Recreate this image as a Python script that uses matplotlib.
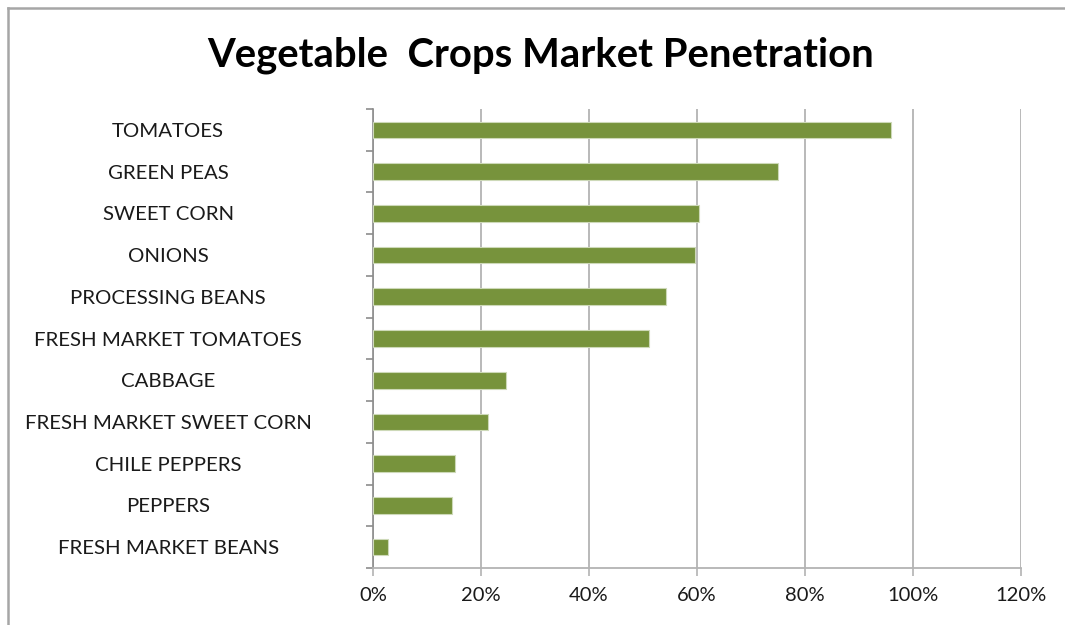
import matplotlib.pyplot as plt
from matplotlib.lines import Line2D
from matplotlib.ticker import FuncFormatter

plt.rcParams['font.family'] = ['Lato', 'DejaVu Sans']

# data, top to bottom
crops = ['TOMATOES', 'GREEN PEAS', 'SWEET CORN', 'ONIONS', 'PROCESSING BEANS',
         'FRESH MARKET TOMATOES', 'CABBAGE', 'FRESH MARKET SWEET CORN',
         'CHILE PEPPERS', 'PEPPERS', 'FRESH MARKET BEANS']
penetration = [95.9, 75.0, 60.3, 59.7, 54.2, 51.2, 24.7, 21.3, 15.2, 14.7, 2.8]
xticks = [0, 20, 40, 60, 80, 100, 120]

fig = plt.figure(figsize=(10.65, 6.25), dpi=100)
ax = fig.add_axes([0.3502, 0.0912, 0.6085, 0.7344])

ypos = list(range(len(crops)))
ax.barh(ypos, penetration, height=0.4, color='#77933C', edgecolor='#cdd9b8',
        linewidth=0.8, zorder=3)

ax.set_xlim(0, 120)
ax.set_ylim(len(crops) - 0.5, -0.5)
ax.set_xticks(xticks)
ax.xaxis.set_major_formatter(FuncFormatter(lambda v, p: f'{v:.0f}%'))
ax.grid(axis='x', color='#b3b3b3', linewidth=1.3, zorder=0)

# category labels centred in the left area, separator ticks between categories
ax.set_yticks(ypos)
ax.set_yticklabels(crops, fontsize=14.7, color='#1a1a1a', ha='center')
ax.set_yticks([y - 0.5 for y in range(len(crops) + 1)], minor=True)
ax.tick_params(axis='y', which='major', length=0, pad=147.5)
ax.tick_params(axis='y', which='minor', length=5, width=1.2, color='#8c8c8c', direction='out')
ax.tick_params(axis='x', length=6, width=1.2, color='#b3b3b3', direction='out',
               labelsize=14.5, labelcolor='#1a1a1a', pad=8)

for s in ['top', 'right']:
    ax.spines[s].set_visible(False)
ax.spines['left'].set_color('#8c8c8c')
ax.spines['left'].set_linewidth(1.2)
ax.spines['bottom'].set_color('#b3b3b3')
ax.spines['bottom'].set_linewidth(1.3)

fig.text(0.508, 0.912, 'Vegetable  Crops Market Penetration', ha='center', va='center',
         fontsize=28.8, fontweight='bold', color='black')

# chart border: only top and left edges are inside the picture
bx, by = 7.5 / 1065, 1 - 7.5 / 625
fig.lines.append(Line2D([bx, 1.0], [by, by], transform=fig.transFigure,
                        color='#a6a6a6', linewidth=1.8))
fig.lines.append(Line2D([bx, bx], [0.0, by], transform=fig.transFigure,
                        color='#a6a6a6', linewidth=1.8))

fig.savefig('out.png', dpi=100)
